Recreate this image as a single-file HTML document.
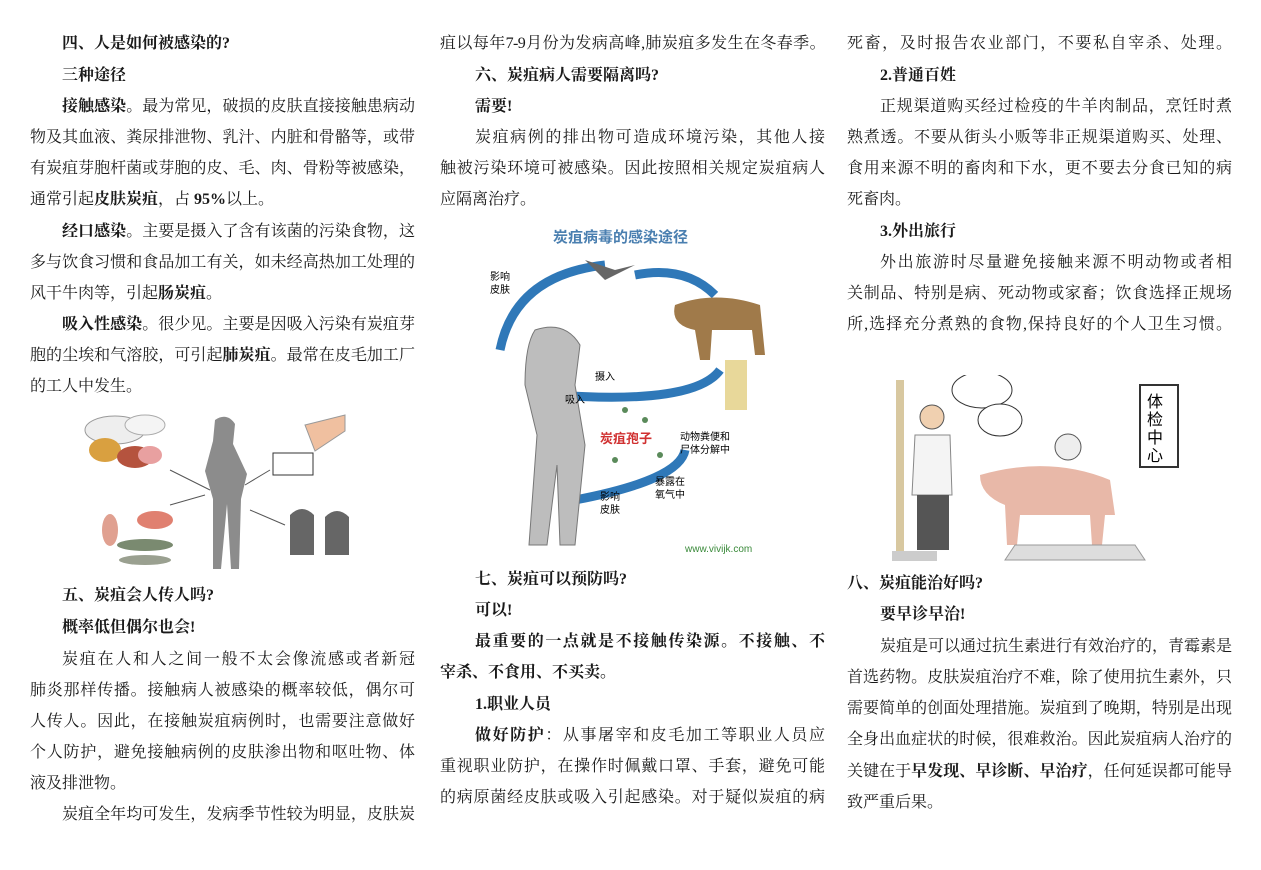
<!DOCTYPE html>
<html><head><meta charset="utf-8">
<style>
body{margin:0;width:1261px;height:870px;background:#fff;position:relative;overflow:hidden;font-family:"Liberation Serif","Noto Serif CJK SC","Noto Sans CJK SC",serif;color:#1a1a1a;}
.l{position:absolute;font-size:16px;line-height:20px;height:20px;white-space:nowrap;}
.j{text-align:justify;text-align-last:justify;white-space:normal;overflow:hidden;}
b{font-weight:bold;}
.c1{left:30px;width:385px}.c1i{left:62px;width:353px}
.c2{left:440px;width:385px}.c2i{left:475px;width:350px}
.c3{left:847px;width:385px}.c3i{left:880px;width:352px}
svg{position:absolute}
</style></head><body>
<!-- Column 1 -->
<div class="l c1i" style="top:34px"><b>四、人是如何被感染的?</b></div>
<div class="l c1i" style="top:66px"><b>三种途径</b></div>
<div class="l c1i j" style="top:97px"><b>接触感染</b>。最为常见，破损的皮肤直接接触患病动</div>
<div class="l c1 j" style="top:128px">物及其血液、粪尿排泄物、乳汁、内脏和骨骼等，或带</div>
<div class="l c1 j" style="top:159px">有炭疽芽胞杆菌或芽胞的皮、毛、肉、骨粉等被感染，</div>
<div class="l c1" style="top:190px">通常引起<b>皮肤炭疽</b>，占 <b>95%</b>以上。</div>
<div class="l c1i j" style="top:222px"><b>经口感染</b>。主要是摄入了含有该菌的污染食物，这</div>
<div class="l c1 j" style="top:253px">多与饮食习惯和食品加工有关，如未经高热加工处理的</div>
<div class="l c1" style="top:284px">风干牛肉等，引起<b>肠炭疽</b>。</div>
<div class="l c1i j" style="top:315px"><b>吸入性感染</b>。很少见。主要是因吸入污染有炭疽芽</div>
<div class="l c1 j" style="top:346px">胞的尘埃和气溶胶，可引起<b>肺炭疽</b>。最常在皮毛加工厂</div>
<div class="l c1" style="top:377px">的工人中发生。</div>
<svg style="left:75px;top:405px" width="285" height="172">
<ellipse cx="40" cy="25" rx="30" ry="14" fill="#eee" stroke="#999"/>
<ellipse cx="70" cy="20" rx="20" ry="10" fill="#f4f4f4" stroke="#aaa"/>
<ellipse cx="30" cy="45" rx="16" ry="12" fill="#d9a040"/>
<ellipse cx="60" cy="52" rx="18" ry="11" fill="#b5533e"/>
<ellipse cx="75" cy="50" rx="12" ry="9" fill="#e8a0a0"/>
<ellipse cx="80" cy="115" rx="18" ry="9" fill="#e08070"/>
<ellipse cx="35" cy="125" rx="8" ry="16" fill="#e0a090"/>
<ellipse cx="70" cy="140" rx="28" ry="6" fill="#7a8a70"/>
<ellipse cx="70" cy="155" rx="26" ry="5" fill="#9aa090"/>
<path d="M140 15 q12 -8 20 4 l-2 20 l14 30 l-6 25 l-2 70 h-8 l-4 -65 l-6 65 h-8 l0 -70 l-8 -28 l8 -30z" fill="#8c8c8c"/>
<path d="M230 20 l40 -10 l0 16 l-30 20z" fill="#f0c0a0" stroke="#999"/>
<rect x="198" y="48" width="40" height="22" fill="#fff" stroke="#333"/>
<path d="M215 110 q12 -12 24 0 v40 h-24z M250 112 q12 -12 24 0 v38 h-24z" fill="#666"/>
<line x1="95" y1="65" x2="135" y2="85" stroke="#555"/><line x1="95" y1="100" x2="130" y2="90" stroke="#555"/>
<line x1="195" y1="65" x2="170" y2="80" stroke="#555"/><line x1="210" y1="120" x2="175" y2="105" stroke="#555"/>
</svg>
<div class="l c1i" style="top:586px"><b>五、炭疽会人传人吗?</b></div>
<div class="l c1i" style="top:618px"><b>概率低但偶尔也会!</b></div>
<div class="l c1i j" style="top:650px">炭疽在人和人之间一般不太会像流感或者新冠</div>
<div class="l c1 j" style="top:681px">肺炎那样传播。接触病人被感染的概率较低，偶尔可</div>
<div class="l c1 j" style="top:712px">人传人。因此，在接触炭疽病例时，也需要注意做好</div>
<div class="l c1 j" style="top:743px">个人防护，避免接触病例的皮肤渗出物和呕吐物、体</div>
<div class="l c1" style="top:774px">液及排泄物。</div>
<div class="l c1i j" style="top:805px">炭疽全年均可发生，发病季节性较为明显，皮肤炭</div>
<!-- Column 2 -->
<div class="l c2 j" style="top:34px;letter-spacing:-0.6px">疽以每年7-9月份为发病高峰,肺炭疽多发生在冬春季。</div>
<div class="l c2i" style="top:66px"><b>六、炭疽病人需要隔离吗?</b></div>
<div class="l c2i" style="top:97px"><b>需要!</b></div>
<div class="l c2i j" style="top:128px">炭疽病例的排出物可造成环境污染，其他人接</div>
<div class="l c2 j" style="top:159px">触被污染环境可被感染。因此按照相关规定炭疽病人</div>
<div class="l c2" style="top:190px">应隔离治疗。</div>
<svg style="left:485px;top:220px" width="292" height="342" font-family="Liberation Sans,Noto Sans CJK SC,sans-serif">
<text x="68" y="22" font-size="15" font-weight="bold" fill="#4a7fb0">炭疽病毒的感染途径</text>
<path d="M15 130 Q30 55 120 45" fill="none" stroke="#2f78b8" stroke-width="9"/>
<path d="M150 55 Q200 45 230 75" fill="none" stroke="#2f78b8" stroke-width="9"/>
<path d="M235 150 Q210 185 70 175" fill="none" stroke="#2f78b8" stroke-width="9"/>
<path d="M200 230 Q195 260 90 280" fill="none" stroke="#2f78b8" stroke-width="9"/>
<path d="M100 40 l30 10 l20 -5 l-30 15z" fill="#666"/>
<path d="M190 85 q40 -15 85 0 l5 50 h-10 l-3 -25 h-40 l-2 30 h-10 l-5 -30 q-25 -5 -20 -25z" fill="#a07a4a"/>
<path d="M50 110 q30 -10 45 15 l-5 40 l10 60 l-10 100 h-15 l-3 -80 l-10 80 h-18 l8 -110 l-12 -50 q0 -40 10 -55z" fill="#bdbdbd" stroke="#777"/>
<rect x="240" y="140" width="22" height="50" fill="#e8d89a"/>
<text x="115" y="223" font-size="13" font-weight="bold" fill="#d03030">炭疽孢子</text>
<g fill="#5a8a5a" font-size="10"><circle cx="140" cy="190" r="3"/><circle cx="160" cy="200" r="3"/><circle cx="130" cy="240" r="3"/><circle cx="175" cy="235" r="3"/></g>
<text x="195" y="220" font-size="10">动物粪便和</text><text x="195" y="233" font-size="10">尸体分解中</text>
<text x="170" y="265" font-size="10">暴露在</text><text x="170" y="278" font-size="10">氧气中</text>
<text x="110" y="160" font-size="10">摄入</text><text x="80" y="183" font-size="10">吸入</text>
<text x="5" y="60" font-size="10">影响</text><text x="5" y="73" font-size="10">皮肤</text>
<text x="115" y="280" font-size="10">影响</text><text x="115" y="293" font-size="10">皮肤</text>
<text x="200" y="332" font-size="10" fill="#3a8a3a">www.vivijk.com</text>
</svg>
<div class="l c2i" style="top:570px"><b>七、炭疽可以预防吗?</b></div>
<div class="l c2i" style="top:601px"><b>可以!</b></div>
<div class="l c2i j" style="top:632px"><b>最重要的一点就是不接触传染源。不接触、不</b></div>
<div class="l c2" style="top:663px"><b>宰杀、不食用、不买卖。</b></div>
<div class="l c2i" style="top:695px"><b>1.职业人员</b></div>
<div class="l c2i j" style="top:726px"><b>做好防护</b>：从事屠宰和皮毛加工等职业人员应</div>
<div class="l c2 j" style="top:757px">重视职业防护，在操作时佩戴口罩、手套，避免可能</div>
<div class="l c2 j" style="top:788px">的病原菌经皮肤或吸入引起感染。对于疑似炭疽的病</div>
<!-- Column 3 -->
<div class="l c3 j" style="top:34px">死畜，及时报告农业部门，不要私自宰杀、处理。</div>
<div class="l c3i" style="top:66px"><b>2.普通百姓</b></div>
<div class="l c3i j" style="top:97px">正规渠道购买经过检疫的牛羊肉制品，烹饪时煮</div>
<div class="l c3 j" style="top:128px">熟煮透。不要从街头小贩等非正规渠道购买、处理、</div>
<div class="l c3 j" style="top:159px">食用来源不明的畜肉和下水，更不要去分食已知的病</div>
<div class="l c3" style="top:190px">死畜肉。</div>
<div class="l c3i" style="top:222px"><b>3.外出旅行</b></div>
<div class="l c3i j" style="top:253px">外出旅游时尽量避免接触来源不明动物或者相</div>
<div class="l c3 j" style="top:284px">关制品、特别是病、死动物或家畜；饮食选择正规场</div>
<div class="l c3 j" style="top:315px">所,选择充分煮熟的食物,保持良好的个人卫生习惯。</div>
<svg style="left:890px;top:375px" width="292" height="188" font-family="Liberation Sans,Noto Sans CJK SC,sans-serif">
<rect x="6" y="5" width="8" height="180" fill="#d8c8a0"/>
<rect x="2" y="176" width="45" height="10" fill="#ccc"/>
<circle cx="42" cy="42" r="12" fill="#f0d0b0" stroke="#555"/>
<path d="M25 60 h35 l2 60 h-40z" fill="#f4f4f4" stroke="#888"/>
<rect x="27" y="120" width="32" height="55" fill="#555"/>
<ellipse cx="92" cy="15" rx="30" ry="18" fill="#fff" stroke="#333"/>
<ellipse cx="110" cy="45" rx="22" ry="16" fill="#fff" stroke="#333"/>
<rect x="250" y="10" width="38" height="82" fill="#fff" stroke="#333" stroke-width="2"/>
<text x="257" y="32" font-size="16">体</text><text x="257" y="50" font-size="16">检</text><text x="257" y="68" font-size="16">中</text><text x="257" y="86" font-size="16">心</text>
<circle cx="178" cy="72" r="13" fill="#eee" stroke="#555"/>
<path d="M90 100 q70 -20 130 5 l5 35 h-10 l-3 30 h-10 l-2 -30 h-70 l-3 30 h-10 l-2 -40 q-25 -10 -25 -30z" fill="#e8b8a8"/>
<path d="M125 170 h120 l10 15 h-140z" fill="#ddd" stroke="#999"/>
</svg>
<div class="l c3" style="top:574px"><b>八、炭疽能治好吗?</b></div>
<div class="l c3i" style="top:605px"><b>要早诊早治!</b></div>
<div class="l c3i j" style="top:637px">炭疽是可以通过抗生素进行有效治疗的，青霉素是</div>
<div class="l c3 j" style="top:668px">首选药物。皮肤炭疽治疗不难，除了使用抗生素外，只</div>
<div class="l c3 j" style="top:699px">需要简单的创面处理措施。炭疽到了晚期，特别是出现</div>
<div class="l c3 j" style="top:730px">全身出血症状的时候，很难救治。因此炭疽病人治疗的</div>
<div class="l c3 j" style="top:762px">关键在于<b>早发现、早诊断、早治疗</b>，任何延误都可能导</div>
<div class="l c3" style="top:793px">致严重后果。</div>
</body></html>
